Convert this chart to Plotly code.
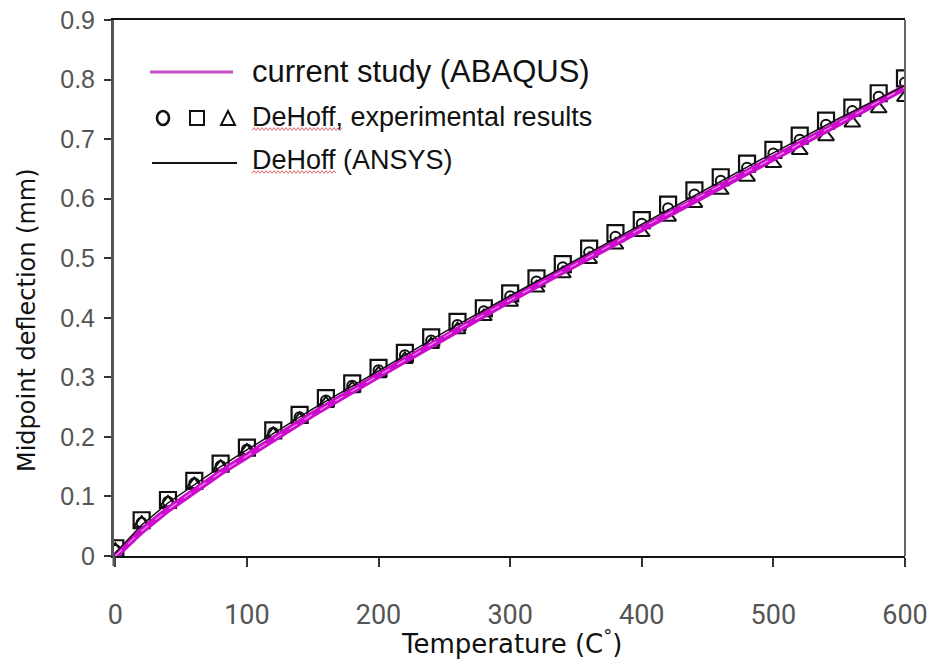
import plotly.graph_objects as go

# ---------------- data ----------------
temp_exp = [0, 20, 40, 60, 80, 100, 120, 140, 160, 180, 200, 220, 240, 260, 280, 300,
            320, 340, 360, 380, 400, 420, 440, 460, 480, 500, 520, 540, 560, 580, 600]
exp_circle = [0.010, 0.056, 0.091, 0.122, 0.151, 0.179, 0.207, 0.233, 0.261, 0.286, 0.312,
              0.337, 0.362, 0.388, 0.411, 0.436, 0.461, 0.485, 0.510, 0.536, 0.558, 0.584,
              0.607, 0.630, 0.652, 0.676, 0.699, 0.724, 0.747, 0.771, 0.795]
exp_square = [0.013, 0.060, 0.094, 0.126, 0.155, 0.182, 0.211, 0.237, 0.265, 0.290, 0.316,
              0.341, 0.367, 0.393, 0.416, 0.441, 0.466, 0.490, 0.516, 0.542, 0.564, 0.590,
              0.614, 0.636, 0.659, 0.682, 0.706, 0.731, 0.753, 0.777, 0.802]
exp_triangle = [0.010, 0.055, 0.089, 0.120, 0.149, 0.176, 0.204, 0.229, 0.256, 0.281, 0.306,
                0.330, 0.355, 0.380, 0.402, 0.426, 0.450, 0.474, 0.498, 0.522, 0.543, 0.569,
                0.592, 0.614, 0.636, 0.659, 0.681, 0.704, 0.727, 0.751, 0.770]

temp_abaqus = [0, 20, 40, 60, 80, 100, 150, 200, 250, 300, 350, 400, 450, 500, 550, 600]
defl_abaqus = [0.0, 0.042, 0.078, 0.110, 0.140, 0.168, 0.238, 0.303, 0.368, 0.430,
               0.490, 0.550, 0.611, 0.668, 0.727, 0.787]

temp_ansys = [0, 20, 40, 60, 80, 100, 150, 200, 250, 300, 350, 400, 450, 500, 550, 600]
defl_ansys = [0.005, 0.052, 0.089, 0.120, 0.150, 0.178, 0.247, 0.311, 0.376, 0.437,
              0.497, 0.557, 0.618, 0.677, 0.735, 0.790]

x_ticks = [0, 100, 200, 300, 400, 500, 600]
y_ticks = [0, 0.1, 0.2, 0.3, 0.4, 0.5, 0.6, 0.7, 0.8, 0.9]
y_tick_labels = ["0", "0.1", "0.2", "0.3", "0.4", "0.5", "0.6", "0.7", "0.8", "0.9"]

legend_labels = ["current study (ABAQUS)", "DeHoff, experimental results", "DeHoff (ANSYS)"]
x_title = "Temperature (C<sup>°</sup>)"
y_title = "Midpoint deflection (mm)"

# ---------------- layout geometry ----------------
W, H = 933, 665
L, R, T, B = 114, 28, 20, 109
PW, PH = W - L - R, H - T - B


def px(xp):
    return (xp - L) / PW


def py(yp):
    return (H - B - yp) / PH


MAGENTA = "#cc0ccc"

fig = go.Figure()

# experimental markers
fig.add_trace(go.Scatter(x=temp_exp, y=exp_square, mode="markers",
                         marker=dict(symbol="square-open", size=16, color="#111",
                                     line=dict(width=2.2, color="#111")),
                         showlegend=False))
fig.add_trace(go.Scatter(x=temp_exp, y=exp_triangle, mode="markers",
                         marker=dict(symbol="triangle-up-open", size=14, color="#111",
                                     line=dict(width=2, color="#111")),
                         showlegend=False))
fig.add_trace(go.Scatter(x=temp_exp, y=exp_circle, mode="markers",
                         marker=dict(symbol="circle-open", size=10, color="#111",
                                     line=dict(width=2, color="#111")),
                         showlegend=False))
# ABAQUS curve
fig.add_trace(go.Scatter(x=temp_abaqus, y=defl_abaqus, mode="lines",
                         line=dict(color=MAGENTA, width=6.5),
                         showlegend=False))
fig.add_trace(go.Scatter(x=temp_abaqus, y=defl_abaqus, mode="lines",
                         line=dict(color="#ee90ee", width=1.2, dash="dash"),
                         showlegend=False))
# ANSYS curve
fig.add_trace(go.Scatter(x=temp_ansys, y=defl_ansys, mode="lines",
                         line=dict(color="#111", width=1.5),
                         showlegend=False))

shapes = []
# right border (gray)
shapes.append(dict(type="line", xref="paper", yref="paper", x0=1, x1=1, y0=0, y1=1,
                   line=dict(color="#666", width=2)))
# left axis extension below x-axis
shapes.append(dict(type="line", xref="paper", yref="paper", x0=0, x1=0, y0=py(566), y1=0,
                   line=dict(color="#555", width=3)))

# legend samples
shapes.append(dict(type="line", xref="paper", yref="paper", x0=px(150), x1=px(233),
                   y0=py(72), y1=py(72), line=dict(color="#c050c8", width=3)))
shapes.append(dict(type="line", xref="paper", yref="paper", x0=px(152), x1=px(237),
                   y0=py(163), y1=py(163), line=dict(color="#111", width=2.2)))
shapes.append(dict(type="circle", xref="paper", yref="paper", xsizemode="pixel",
                   ysizemode="pixel", xanchor=px(163), yanchor=py(118),
                   x0=-6, x1=6, y0=-7, y1=7, line=dict(color="#111", width=2.6)))
shapes.append(dict(type="rect", xref="paper", yref="paper", xsizemode="pixel",
                   ysizemode="pixel", xanchor=px(197), yanchor=py(118),
                   x0=-7, x1=7, y0=-7, y1=7, line=dict(color="#111", width=2)))
shapes.append(dict(type="path", xref="paper", yref="paper", xsizemode="pixel",
                   ysizemode="pixel", xanchor=px(228), yanchor=py(118),
                   path="M -7,-7 L 7,-7 L 0,7 Z", line=dict(color="#111", width=2)))

# red wavy spell-check underlines
for x_start, x_end, y_line in [(252, 342, 129), (252, 336, 172)]:
    pts = []
    n = int((x_end - x_start) / 2)
    for i in range(n + 1):
        dy = 1.4 if i % 2 else -1.4
        pts.append(f"{i * 2},{dy}")
    path = "M " + " L ".join(pts)
    shapes.append(dict(type="path", xref="paper", yref="paper", xsizemode="pixel",
                       ysizemode="pixel", xanchor=px(x_start), yanchor=py(y_line),
                       path=path, line=dict(color="#e06a6a", width=1)))

annotations = []
legend_rows = [(72, 31), (117, 27), (160, 27)]
for lab, (yy, fs) in zip(legend_labels, legend_rows):
    annotations.append(dict(text=lab, xref="paper", yref="paper", x=px(250), y=py(yy),
                            xanchor="left", yanchor="middle", showarrow=False,
                            font=dict(family="Liberation Sans, Arial, sans-serif",
                                      size=fs, color="#111")))
annotations.append(dict(text=x_title, xref="paper", yref="paper", x=px(512), y=py(642),
                        xanchor="center", yanchor="middle", showarrow=False,
                        font=dict(family="DejaVu Sans, sans-serif",
                                  size=26, color="#111")))
annotations.append(dict(text=y_title, xref="paper", yref="paper", x=px(27), y=py(320),
                        xanchor="center", yanchor="middle", showarrow=False, textangle=-90,
                        font=dict(family="DejaVu Sans, sans-serif", size=24, color="#111")))

fig.update_layout(
    width=W, height=H,
    margin=dict(l=L, r=R, t=T, b=B, pad=0, autoexpand=False),
    paper_bgcolor="white", plot_bgcolor="white",
    shapes=shapes, annotations=annotations,
    showlegend=False,
    xaxis=dict(range=[-1, 600], tickvals=x_ticks, ticktext=[str(v) for v in x_ticks],
               showgrid=False, zeroline=False, automargin=False,
               showline=True, linecolor="#111", linewidth=2, mirror=True,
               ticks="outside", ticklen=9, tickwidth=2, tickcolor="#333",
               ticklabelstandoff=25,
               tickfont=dict(family="Roboto, sans-serif", size=27, color="#555")),
    yaxis=dict(range=[0, 0.9], tickvals=y_ticks, ticktext=y_tick_labels,
               showgrid=False, zeroline=False, automargin=False,
               showline=True, linecolor="#555", linewidth=3, mirror=False,
               ticks="outside", ticklen=7, tickwidth=2, tickcolor="#333",
               ticklabelstandoff=4,
               tickfont=dict(family="Liberation Sans, Arial, sans-serif", size=25,
                             color="#555")),
)

fig.write_html("out.html")
